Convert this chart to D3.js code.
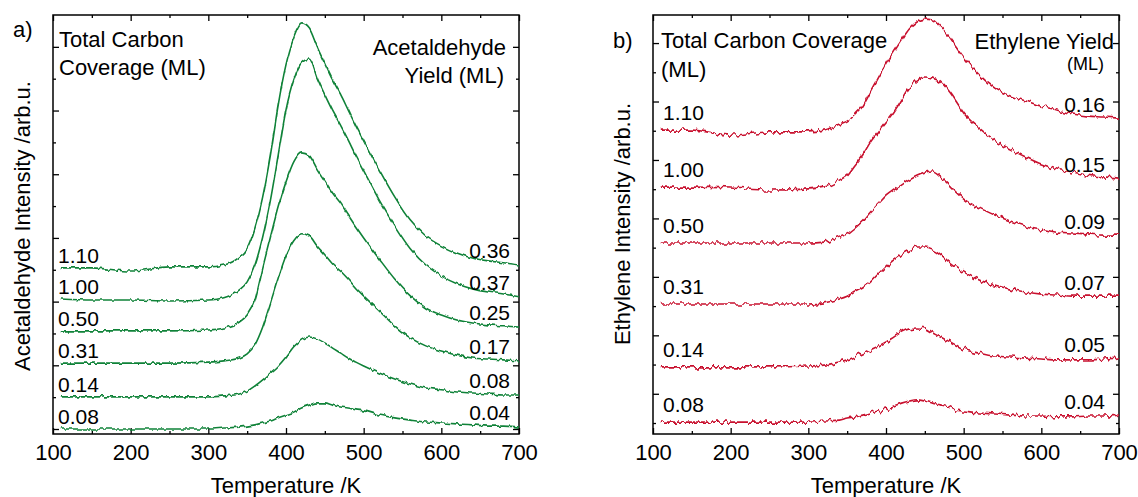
<!DOCTYPE html>
<html>
<head>
<meta charset="utf-8">
<script src="https://cdn.jsdelivr.net/npm/d3@7"></script>
<style>
  body { margin: 0; background: #fff; }
  svg text { font-family: "Liberation Sans", Arial, sans-serif; fill: #000; }
</style>
</head>
<body>
<svg width="1138" height="497"></svg>
<script>
// temperature grid (K) shared by all traces
const temps = [110,150,200,250,300,320,340,350,360,370,380,390,400,410,420,430,440,450,460,470,480,490,500,520,540,560,580,600,620,640,660,680,700];

const coverage = ['1.10','1.00','0.50','0.31','0.14','0.08'];
const acetYield = ['0.36','0.37','0.25','0.17','0.08','0.04'];
const ethYield = ['0.16','0.15','0.09','0.07','0.05','0.04'];

// acetaldehyde traces (offset, arb.u.)
const acet110 = [5.06,5.06,4.96,5.09,5.09,5.15,5.40,5.66,6.31,7.29,8.61,10.18,11.44,12.28,12.72,12.57,12.00,11.47,10.96,10.52,10.02,9.52,9.05,8.14,7.29,6.57,6.06,5.75,5.53,5.37,5.28,5.22,5.15];
const acet100 = [4.08,4.05,4.05,4.02,4.05,4.12,4.37,4.62,5.15,6.03,7.19,8.61,10.02,10.96,11.50,11.62,11.03,10.49,9.99,9.55,9.08,8.58,8.11,7.19,6.38,5.66,5.15,4.81,4.56,4.40,4.30,4.24,4.15];
const acet050 = [3.08,3.08,3.08,3.08,3.11,3.17,3.36,3.58,4.05,5.06,6.03,6.97,7.76,8.39,8.67,8.58,8.17,7.79,7.41,7.10,6.72,6.35,6.00,5.34,4.71,4.18,3.80,3.58,3.42,3.33,3.27,3.24,3.20];
const acet031 = [2.07,2.07,2.07,2.07,2.10,2.14,2.23,2.36,2.64,3.20,3.96,4.74,5.44,5.91,6.13,6.06,5.75,5.47,5.18,4.96,4.71,4.43,4.18,3.71,3.24,2.86,2.61,2.45,2.32,2.23,2.20,2.17,2.14];
const acet014 = [1.01,1.01,1.01,1.01,1.01,1.04,1.10,1.19,1.35,1.54,1.76,1.98,2.26,2.58,2.80,2.89,2.83,2.70,2.54,2.39,2.23,2.10,1.98,1.76,1.57,1.41,1.29,1.23,1.16,1.13,1.10,1.07,1.07];
const acet008 = [0,0,0,0,0,0.03,0.06,0.09,0.13,0.19,0.25,0.35,0.44,0.53,0.66,0.75,0.82,0.82,0.75,0.69,0.66,0.60,0.57,0.44,0.35,0.28,0.22,0.19,0.16,0.13,0.09,0.09,0.06];

// ethylene traces (offset, arb.u.)
const eth110 = [10.02,10.02,9.85,9.96,9.96,10.02,10.23,10.33,10.54,10.84,11.32,11.80,12.28,12.69,13.10,13.48,13.72,13.82,13.79,13.55,13.27,12.90,12.52,11.91,11.46,11.19,11.02,10.84,10.71,10.57,10.50,10.47,10.43];
const eth100 = [8.07,8.07,8.04,7.97,8.01,8.07,8.31,8.48,8.83,9.17,9.61,9.96,10.30,10.64,11.05,11.46,11.73,11.84,11.80,11.67,11.39,11.02,10.61,10.09,9.68,9.37,9.10,8.86,8.69,8.59,8.48,8.42,8.38];
const eth050 = [6.16,6.16,6.16,6.16,6.16,6.19,6.36,6.47,6.67,6.91,7.22,7.49,7.77,7.97,8.14,8.31,8.45,8.55,8.59,8.42,8.18,7.90,7.66,7.36,7.12,6.91,6.74,6.64,6.53,6.50,6.47,6.43,6.43];
const eth031 = [4.07,4.07,4.07,4.07,4.07,4.11,4.24,4.34,4.48,4.62,4.82,5.10,5.37,5.58,5.78,5.92,6.02,6.02,5.95,5.78,5.54,5.34,5.17,4.89,4.72,4.58,4.48,4.41,4.38,4.34,4.34,4.34,4.34];
const eth014 = [1.92,1.92,1.92,1.92,1.95,1.98,2.09,2.16,2.26,2.36,2.50,2.63,2.77,2.94,3.11,3.22,3.25,3.22,3.08,2.94,2.81,2.67,2.53,2.39,2.29,2.26,2.22,2.19,2.16,2.16,2.16,2.19,2.22];
const eth008 = [0.03,0.03,0.03,0.03,0.03,0.07,0.10,0.17,0.21,0.27,0.34,0.41,0.48,0.58,0.68,0.75,0.79,0.75,0.68,0.62,0.55,0.44,0.41,0.34,0.31,0.27,0.24,0.24,0.21,0.21,0.24,0.24,0.27];

const svg = d3.select('svg');
const defs = svg.append('defs');

// measurement-noise look for the traces (vertical jitter only)
function addNoise(id, scale, seed) {
  const f = defs.append('filter').attr('id', id)
    .attr('filterUnits', 'userSpaceOnUse')
    .attr('x', 0).attr('y', 0).attr('width', 1138).attr('height', 497)
    .attr('color-interpolation-filters', 'sRGB');
  f.append('feTurbulence').attr('type', 'fractalNoise')
    .attr('baseFrequency', '0.25 0.05').attr('numOctaves', 2)
    .attr('seed', seed).attr('result', 'n');
  f.append('feColorMatrix').attr('in', 'n').attr('type', 'matrix')
    .attr('values', '0 0 0 0 0.5  0 1 0 0 0  0 0 0 0 0  0 0 0 0 1')
    .attr('result', 'm');
  f.append('feDisplacementMap').attr('in', 'SourceGraphic').attr('in2', 'm')
    .attr('scale', scale).attr('xChannelSelector', 'R').attr('yChannelSelector', 'G');
}
addNoise('noiseG', 5, 3);
addNoise('noiseR', 8, 7);

function drawPanel(p) {
  const x = d3.scaleLinear().domain([100, 700]).range([p.x0, p.x1]);
  const y = d3.scaleLinear().domain(p.yDomain).range([p.y1, p.y0]);
  const g = svg.append('g');

  const yTicks = d3.range(0, p.nTicks);
  const major = yTicks.filter(t => t % 2 === p.majorParity);
  const minor = yTicks.filter(t => t % 2 !== p.majorParity);

  const axes = g.append('g').attr('class', 'axes');
  const put = (sel, ax, tx, ty) => sel.append('g')
    .attr('transform', `translate(${tx},${ty})`).call(ax)
    .call(s => s.select('.domain').remove());

  const xMajor = d3.range(100, 701, 100);
  const xMinor = d3.range(150, 700, 100);
  put(axes, d3.axisBottom(x).tickValues(xMajor).tickSize(-6).tickPadding(10), 0, p.y1)
    .selectAll('text').style('font-size', '22px');
  put(axes, d3.axisBottom(x).tickValues(xMinor).tickSize(-3).tickFormat(''), 0, p.y1);
  put(axes, d3.axisTop(x).tickValues(xMajor).tickSize(-6).tickFormat(''), 0, p.y0);
  put(axes, d3.axisTop(x).tickValues(xMinor).tickSize(-3).tickFormat(''), 0, p.y0);
  put(axes, d3.axisLeft(y).tickValues(major).tickSize(-6).tickFormat(''), p.x0, 0);
  put(axes, d3.axisLeft(y).tickValues(minor).tickSize(-3).tickFormat(''), p.x0, 0);
  put(axes, d3.axisRight(y).tickValues(major).tickSize(-6).tickFormat(''), p.x1, 0);
  put(axes, d3.axisRight(y).tickValues(minor).tickSize(-3).tickFormat(''), p.x1, 0);
  axes.selectAll('line').attr('stroke', '#000').attr('stroke-width', 1.3);
  axes.selectAll('text').attr('fill', '#000').attr('font-family', '"Liberation Sans", Arial, sans-serif');

  g.append('rect')
    .attr('x', p.x0).attr('y', p.y0)
    .attr('width', p.x1 - p.x0).attr('height', p.y1 - p.y0)
    .attr('fill', 'none').attr('stroke', '#000').attr('stroke-width', 1.5);

  const line = d3.line()
    .x(d => x(d[0]))
    .y(d => y(d[1]))
    .curve(d3.curveMonotoneX);

  g.append('g').attr('filter', `url(#${p.noise})`)
    .selectAll('path')
    .data(p.series)
    .join('path')
      .attr('d', s => line(d3.zip(temps, s)))
      .attr('fill', 'none')
      .attr('stroke', p.color)
      .attr('stroke-width', 1.6);

  // coverage labels near start of each trace, yield labels near the end
  g.append('g').selectAll('text')
    .data(p.series)
    .join('text')
      .attr('x', p.x0 + p.covDx)
      .attr('y', s => y(s[0]) + p.covDy)
      .style('font-size', '21px')
      .text((s, i) => coverage[i]);

  g.append('g').selectAll('text')
    .data(p.series)
    .join('text')
      .attr('x', p.x1 - p.yieldDx)
      .attr('y', s => y(s[s.length - 1]) + p.yieldDy)
      .attr('text-anchor', 'end')
      .style('font-size', '21px')
      .text((s, i) => p.yields[i]);

  g.append('text')
    .attr('x', (p.x0 + p.x1) / 2).attr('y', 493)
    .attr('text-anchor', 'middle').style('font-size', '22px')
    .text('Temperature /K');

  g.append('text')
    .attr('transform', `translate(${p.x0 - 23},${p.titleY}) rotate(-90)`)
    .attr('text-anchor', 'middle').style('font-size', '22px')
    .text(p.yTitle);

  g.append('text').attr('x', p.x0 - 40).attr('y', p.tagY)
    .style('font-size', '22px').text(p.tag);

  p.notes.forEach(n => {
    g.append('text').attr('x', n.x).attr('y', n.y)
      .attr('text-anchor', n.anchor || 'start')
      .style('font-size', (n.size || 22) + 'px')
      .text(n.text);
  });
}

drawPanel({
  x0: 53, x1: 519, y0: 15, y1: 434,
  yDomain: [-0.157, 13.0], nTicks: 13, majorParity: 0,
  series: [acet110, acet100, acet050, acet031, acet014, acet008],
  yields: acetYield, color: '#0f8238', noise: 'noiseG',
  covDx: 5, covDy: -5, yieldDx: 9, yieldDy: -7,
  yTitle: 'Acetaldehyde Intensity /arb.u.', titleY: 226,
  tag: 'a)', tagY: 37,
  notes: [
    {x: 59, y: 47, text: 'Total Carbon'},
    {x: 59, y: 75, text: 'Coverage (ML)'},
    {x: 506, y: 55, text: 'Acetaldehyde', anchor: 'end'},
    {x: 504, y: 83, text: 'Yield (ML)', anchor: 'end'}
  ]
});

drawPanel({
  x0: 653, x1: 1119, y0: 15, y1: 434,
  yDomain: [-0.376, 13.96], nTicks: 14, majorParity: 1,
  series: [eth110, eth100, eth050, eth031, eth014, eth008],
  yields: ethYield, color: '#c8102e', noise: 'noiseR',
  covDx: 10, covDy: -10, yieldDx: 14, yieldDy: -6,
  yTitle: 'Ethylene Intensity /arb.u.', titleY: 224,
  tag: 'b)', tagY: 48,
  notes: [
    {x: 661, y: 48, text: 'Total Carbon Coverage'},
    {x: 661, y: 77, text: '(ML)'},
    {x: 1114, y: 49, text: 'Ethylene Yield', anchor: 'end'},
    {x: 1104, y: 70, text: '(ML)', anchor: 'end', size: 18}
  ]
});
</script>
</body>
</html>
